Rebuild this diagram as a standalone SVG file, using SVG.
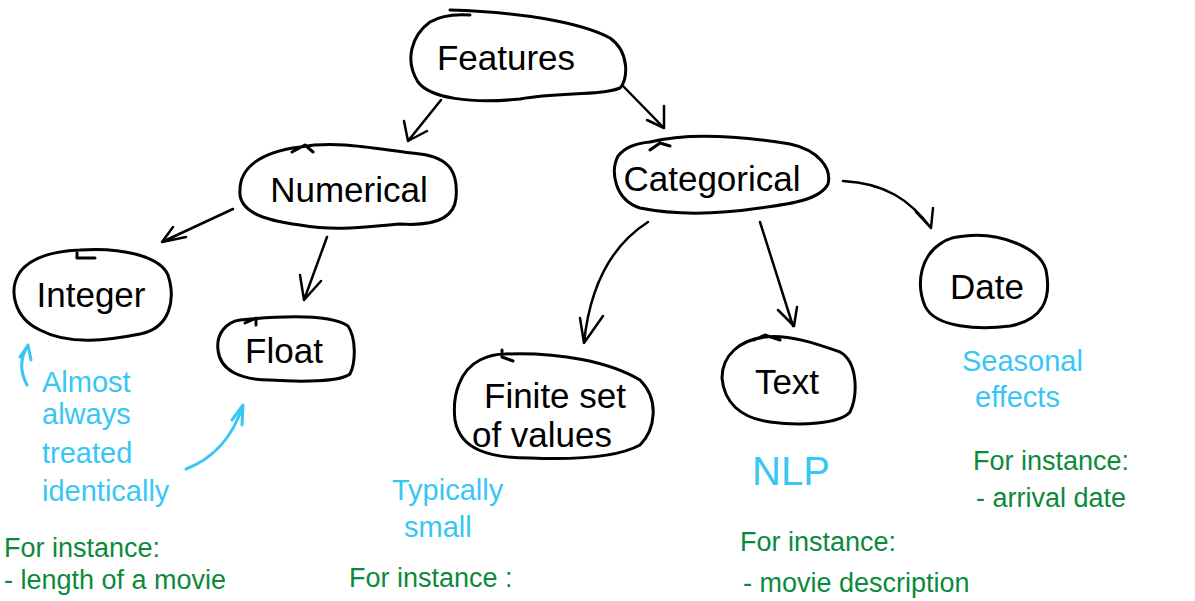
<svg xmlns="http://www.w3.org/2000/svg" width="1195" height="601" viewBox="0 0 1195 601">
<style>
.blob{fill:none;stroke:#000;stroke-width:3;stroke-linecap:round;stroke-linejoin:round}
.lbl{font-family:"Liberation Sans",Arial,sans-serif;font-size:35px;fill:#000;text-anchor:middle}
.con{fill:none;stroke:#000;stroke-width:2.5;stroke-linecap:round;stroke-linejoin:round}
.bl{fill:none;stroke:#38c6f4;stroke-width:3;stroke-linecap:round;stroke-linejoin:round}
.bt{font-family:"Liberation Sans",Arial,sans-serif;font-size:29px;fill:#38c6f4}
.gt{font-family:"Liberation Sans",Arial,sans-serif;font-size:27px;fill:#0b8a3c}
</style>
<rect width="1195" height="601" fill="#fff"/>
<g id="connectors">
<path class="con" d="M441,100 L408,141 M404,121 L408,141 L427,131"/>
<path class="con" d="M623,86 L664,128 M664,106 L664,128 L647,120"/>
<path class="con" d="M233,209 L162,242 M173,227 L162,242 L186,237"/>
<path class="con" d="M327,237 L304,300 M300,275 L304,300 L321,281"/>
<path class="con" d="M648,222 C612,245 590,285 584,343 M580,318 L584,343 L603,316"/>
<path class="con" d="M760,222 L793,326 M778,310 L794,326 L797,307"/>
<path class="con" d="M843,181 C885,183 910,200 931,228 M916,212 L931,228 L933,208"/>
</g>
<g id="features">
<path class="blob" d="M450,10 C520,12 580,22 610,38 C630,52 628,80 620,88 C600,96 560,92 520,99 C470,104 430,98 418,82 C404,60 412,35 430,22 C440,16 456,14 470,15"/>
<text class="lbl" x="506" y="70">Features</text>
</g>
<g id="numerical">
<path class="blob" d="M300,147 C340,140 380,150 420,154 C452,158 458,175 456,198 C454,220 430,226 400,224 C370,226 340,232 300,225 C260,220 238,210 240,190 C240,168 260,152 300,147 M292,152 L305,145 L313,152"/>
<text class="lbl" x="349" y="202">Numerical</text>
</g>
<g id="categorical">
<path class="blob" d="M650,142 C690,132 740,136 790,144 C818,150 832,168 828,184 C820,200 790,204 760,208 C720,214 680,216 640,208 C615,200 610,172 618,156 C626,146 638,143 650,142 M650,150 L660,143 L670,146"/>
<text class="lbl" x="712" y="191">Categorical</text>
</g>
<g id="integer">
<path class="blob" d="M80,250 C120,247 160,256 168,275 C176,300 170,328 140,334 C110,340 70,346 40,330 C14,318 8,290 20,272 C32,256 56,251 80,250 M77,253 L77,258 L95,258"/>
<text class="lbl" x="91" y="307">Integer</text>
</g>
<g id="float">
<path class="blob" d="M240,320 C280,316 330,314 348,326 C356,338 356,362 350,374 C340,382 300,382 270,380 C240,380 220,370 218,350 C216,334 226,322 240,320 M245,323 L256,318 L256,325"/>
<text class="lbl" x="284" y="363">Float</text>
</g>
<g id="finite">
<path class="blob" d="M505,354 C560,352 610,362 640,380 C660,400 655,430 640,445 C620,456 580,460 530,458 C490,458 460,450 455,420 C452,395 460,370 480,360 C490,355 500,354 505,354 M502,350 L502,357 L513,361"/>
<text class="lbl" x="555" y="408">Finite set</text>
<text class="lbl" x="542" y="447">of values</text>
</g>
<g id="text">
<path class="blob" d="M765,337 C790,334 820,345 840,352 C858,362 858,395 850,412 C840,424 800,426 770,422 C740,418 724,402 722,378 C722,355 740,340 765,337 M754,340 L765,335 L780,340"/>
<text class="lbl" x="787" y="394">Text</text>
</g>
<g id="date">
<path class="blob" d="M965,236 C1000,232 1040,248 1046,270 C1052,300 1042,320 1010,326 C980,330 935,328 925,306 C915,282 922,256 940,244 C948,238 955,237 965,236"/>
<text class="lbl" x="987" y="299">Date</text>
</g>
<g id="annotations">
<path class="bl" d="M27,385 C20,372 20,358 28,345 M20,357 L28,345 L31,360"/>
<path class="bl" d="M186,469 C210,460 232,440 243,405 M232,420 L243,405 L242,425"/>
<text class="bt" x="42" y="392">Almost</text>
<text class="bt" x="42" y="424">always</text>
<text class="bt" x="42" y="463">treated</text>
<text class="bt" x="42" y="501">identically</text>
<text class="bt" x="392" y="500">Typically</text>
<text class="bt" x="404" y="537">small</text>
<text class="bt" x="752" y="485" style="font-size:40px">NLP</text>
<text class="bt" x="962" y="371">Seasonal</text>
<text class="bt" x="975" y="407">effects</text>
<text class="gt" x="973" y="470">For instance:</text>
<text class="gt" x="976" y="507">- arrival date</text>
<text class="gt" x="740" y="551">For instance:</text>
<text class="gt" x="743" y="592">- movie description</text>
<text class="gt" x="349" y="587">For instance :</text>
<text class="gt" x="4" y="557">For instance:</text>
<text class="gt" x="4" y="589">- length of a movie</text>
</g>
</svg>
